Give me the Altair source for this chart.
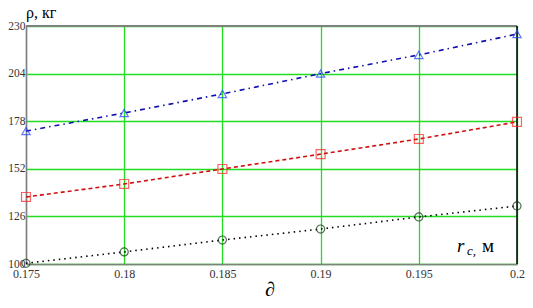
import altair as alt
import pandas as pd

x_vals = [0.175, 0.18, 0.185, 0.19, 0.195, 0.2]
blue_vals = [172.6, 182.5, 192.9, 204.0, 214.2, 225.6]
red_vals = [136.6, 143.7, 151.9, 160.0, 168.3, 177.6]
black_vals = [100.4, 106.6, 113.1, 119.1, 125.7, 131.7]
y_ticks = [100, 126, 152, 178, 204, 230]
x_ticks = [0.175, 0.18, 0.185, 0.19, 0.195, 0.2]

def frame(vals):
    return pd.DataFrame({"x": x_vals, "y": vals})

FONT = "Times New Roman"
xs = alt.Scale(domain=[0.175, 0.2], nice=False, zero=False)
ys = alt.Scale(domain=[100, 230], nice=False, zero=False)

X = alt.X("x:Q", scale=xs, axis=alt.Axis(values=x_ticks, title=None, grid=True,
          gridColor="#22dd22", gridWidth=1.3, domainColor="#808080", domainWidth=1.5,
          ticks=False, labelFont=FONT, labelFontSize=12, labelColor="#333333",
          labelPadding=4, labelExpr="format(datum.value, '.3~f')", labelFlush=False))
Y = alt.Y("y:Q", scale=ys, axis=alt.Axis(values=y_ticks, title=None, grid=True,
          gridColor="#22dd22", gridWidth=1.3, domainColor="#808080", domainWidth=1.5,
          ticks=False, labelFont=FONT, labelFontSize=11.5, labelColor="#333333",
          labelPadding=1, labelFlush=False))

base_blue = alt.Chart(frame(blue_vals))
base_red = alt.Chart(frame(red_vals))
base_black = alt.Chart(frame(black_vals))

axes = alt.Chart(frame(blue_vals)).mark_point(opacity=0).encode(x=X, y=Y)

top_rule = alt.Chart(pd.DataFrame({"y": [230]})).mark_rule(color="#808080", strokeWidth=2).encode(y=alt.Y("y:Q", scale=ys))
right_rule = alt.Chart(pd.DataFrame({"x": [0.2]})).mark_rule(color="#000000", strokeWidth=1.5).encode(x=alt.X("x:Q", scale=xs))

blue_line = base_blue.mark_line(color="#1010b0", strokeWidth=1.6, strokeDash=[5, 4, 1.5, 4]).encode(x=alt.X("x:Q", scale=xs), y=alt.Y("y:Q", scale=ys))
blue_pts = base_blue.mark_point(shape="triangle-up", filled=False, color="#2040ff", size=70, strokeWidth=1.2).encode(x=alt.X("x:Q", scale=xs), y=alt.Y("y:Q", scale=ys))
red_line = base_red.mark_line(color="#d01010", strokeWidth=1.6, strokeDash=[4, 3]).encode(x=alt.X("x:Q", scale=xs), y=alt.Y("y:Q", scale=ys))
red_pts = base_red.mark_point(shape="square", filled=False, color="#ff2020", size=80, strokeWidth=1.2).encode(x=alt.X("x:Q", scale=xs), y=alt.Y("y:Q", scale=ys))
black_line = base_black.mark_line(color="#000000", strokeWidth=1.6, strokeDash=[1.5, 4]).encode(x=alt.X("x:Q", scale=xs), y=alt.Y("y:Q", scale=ys))
black_pts = base_black.mark_point(shape="circle", filled=False, color="#103010", size=65, strokeWidth=1.2).encode(x=alt.X("x:Q", scale=xs), y=alt.Y("y:Q", scale=ys))

ylab = alt.Chart(pd.DataFrame({"t": ["ρ, кг"]})).mark_text(font=FONT, fontSize=16, fontWeight="normal", align="left", baseline="alphabetic", color="#000").encode(
    text="t:N", x=alt.value(0), y=alt.value(-8))
dlab = alt.Chart(pd.DataFrame({"t": ["∂"]})).mark_text(font=FONT, fontSize=20, fontStyle="italic", align="center", baseline="alphabetic", color="#000").encode(
    text="t:N", x=alt.value(244), y=alt.value(270))
rlab = alt.Chart(pd.DataFrame({"t": ["r"]})).mark_text(font=FONT, fontSize=19, fontStyle="italic", fontWeight="normal", align="left", baseline="alphabetic", color="#000").encode(
    text="t:N", x=alt.value(431), y=alt.value(226))
clab = alt.Chart(pd.DataFrame({"t": ["c,"]})).mark_text(font=FONT, fontSize=13, fontStyle="italic", fontWeight="normal", align="left", baseline="alphabetic", color="#000").encode(
    text="t:N", x=alt.value(441), y=alt.value(229))
mlab = alt.Chart(pd.DataFrame({"t": ["м"]})).mark_text(font=FONT, fontSize=19, fontWeight="normal", align="left", baseline="alphabetic", color="#000").encode(
    text="t:N", x=alt.value(456), y=alt.value(226))

chart = alt.layer(axes, top_rule, right_rule, black_line, black_pts, red_line, red_pts, blue_line, blue_pts,
                  ylab, dlab, rlab, clab, mlab).properties(
    width=491, height=238,
    autosize=alt.AutoSizeParams(type="none"),
    padding={"left": 18, "top": 18, "right": 8, "bottom": 36},
    background="white",
).configure_view(stroke=None)

chart.save("out.html", embed_options={"renderer": "svg", "actions": False})
